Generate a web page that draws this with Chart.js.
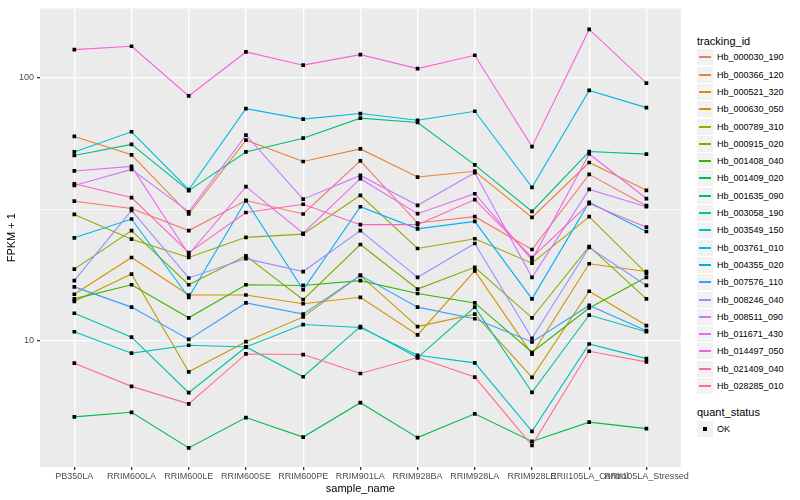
<!DOCTYPE html>
<html>
<head>
<meta charset="utf-8">
<script src="https://cdn.jsdelivr.net/npm/chart.js@4/dist/chart.umd.min.js"></script>
<style>
  body { margin: 0; background: #fff; font-family: "Liberation Sans", Arial, sans-serif; }
  #wrap { position: relative; width: 800px; height: 500px; }
  #plot { position: absolute; left: 0; top: 0; width: 690px; height: 500px; }
  .ltitle { position: absolute; left: 697px; font-size: 11px; color: #000; line-height: 12px; }
  .key { position: absolute; left: 697px; width: 16px; height: 16px; background: #F2F2F2; }
  .key i { position: absolute; display: block; left: 2px; width: 12px; top: 7px; height: 2px; }
  .key b { position: absolute; display: block; left: 6px; top: 6px; width: 4px; height: 4px; background: #000; }
  .ltext { position: absolute; left: 717px; font-size: 9px; color: #000; line-height: 10px; }
</style>
</head>
<body>
<div id="wrap">
  <div id="plot"><canvas id="chart" width="690" height="500"></canvas></div>
</div>
<script>
// samples on the x axis
const samples = ["PB350LA", "RRIM600LA", "RRIM600LE", "RRIM600SE", "RRIM600PE", "RRIM901LA",
  "RRIM928BA", "RRIM928LA", "RRIM928LE", "RRII105LA_Control", "RRII105LA_Stressed"];

const trackingIds = ["Hb_000030_190", "Hb_000366_120", "Hb_000521_320", "Hb_000630_050",
  "Hb_000789_310", "Hb_000915_020", "Hb_001408_040", "Hb_001409_020", "Hb_001635_090",
  "Hb_003058_190", "Hb_003549_150", "Hb_003761_010", "Hb_004355_020", "Hb_007576_110",
  "Hb_008246_040", "Hb_008511_090", "Hb_011671_430", "Hb_014497_050", "Hb_021409_040",
  "Hb_028285_010"];

const colors = ["#F8766D", "#EA8331", "#D89000", "#C09B00", "#A3A500", "#7CAE00", "#39B600",
  "#00BB4E", "#00BF7D", "#00C1A3", "#00BFC4", "#00BAE0", "#00B0F6", "#35A2FF", "#9590FF",
  "#C77CFF", "#E76BF3", "#FA62DB", "#FF62BC", "#FF6C91"];

// FPKM + 1 per tracking id, one value per sample
const hb_000030_190 = [33.9, 31.8, 26.2, 34.1, 30.3, 48.3, 28.0, 29.6, 22.2, 42.9, 32.6];
const hb_000366_120 = [59.8, 50.9, 30.3, 57.9, 48.0, 53.6, 41.9, 44.1, 29.4, 47.6, 37.3];
const hb_000521_320 = [15.0, 20.7, 14.9, 14.9, 13.8, 14.6, 10.5, 18.4, 8.87, 19.6, 18.3];
const hb_000630_050 = [14.1, 17.9, 7.60, 9.90, 12.3, 17.7, 11.3, 12.6, 7.24, 15.4, 11.4];
const hb_000789_310 = [30.2, 24.3, 20.7, 24.7, 25.4, 35.7, 22.4, 24.4, 19.7, 29.6, 18.0];
const hb_000915_020 = [18.7, 26.2, 16.3, 21.0, 14.3, 23.2, 15.7, 19.0, 12.2, 22.8, 14.4];
const hb_001408_040 = [14.4, 16.3, 12.2, 16.3, 16.2, 16.9, 15.1, 13.9, 9.02, 13.3, 17.4];
const hb_001409_020 = [5.12, 5.33, 3.90, 5.09, 4.29, 5.80, 4.27, 5.26, 4.13, 4.89, 4.62];
const hb_001635_090 = [50.6, 55.8, 37.2, 52.2, 58.9, 70.2, 67.6, 46.6, 31.0, 52.4, 51.2];
const hb_003058_190 = [12.7, 10.3, 6.33, 9.45, 7.28, 11.3, 8.61, 13.4, 6.35, 12.5, 10.8];
const hb_003549_150 = [10.8, 8.95, 9.59, 9.45, 11.5, 11.2, 8.79, 8.22, 4.51, 9.70, 8.53];
const hb_003761_010 = [52.2, 62.3, 37.5, 76.3, 69.6, 73.1, 68.9, 74.6, 38.3, 89.5, 77.0];
const hb_004355_020 = [24.6, 29.0, 14.6, 34.1, 15.6, 32.3, 26.6, 28.4, 14.4, 33.6, 26.0];
const hb_007576_110 = [16.0, 13.4, 10.1, 13.9, 12.6, 17.7, 13.4, 12.1, 9.87, 13.6, 10.9];
const hb_008246_040 = [16.9, 31.3, 17.3, 20.5, 18.3, 26.2, 17.4, 23.4, 10.2, 22.6, 16.2];
const hb_008511_090 = [38.9, 44.8, 30.9, 60.5, 34.5, 42.5, 32.7, 43.5, 17.4, 37.6, 32.3];
const hb_011671_430 = [44.2, 46.0, 21.3, 38.5, 25.6, 41.3, 30.4, 36.2, 20.3, 51.3, 34.7];
const hb_014497_050 = [128, 131.8, 85.3, 125.4, 111.7, 122.5, 108.4, 121.8, 54.7, 152.8, 95.5];
const hb_021409_040 = [39.5, 35.0, 21.6, 30.7, 33.0, 27.6, 27.6, 34.4, 20.7, 33.2, 27.0];
const hb_028285_010 = [8.20, 6.69, 5.74, 8.89, 8.84, 7.49, 8.61, 7.26, 3.99, 9.10, 8.29];

const seriesValues = [hb_000030_190, hb_000366_120, hb_000521_320, hb_000630_050, hb_000789_310,
  hb_000915_020, hb_001408_040, hb_001409_020, hb_001635_090, hb_003058_190, hb_003549_150,
  hb_003761_010, hb_004355_020, hb_007576_110, hb_008246_040, hb_008511_090, hb_011671_430,
  hb_014497_050, hb_021409_040, hb_028285_010];

// y ticks (log10), minor gridline sits halfway between decades
const yTicks = [10, 100];
const yMinor = [Math.sqrt(10) * 10];
const quantStatus = ["OK"];

const datasets = seriesValues.map((vals, k) => ({
  label: trackingIds[k],
  data: vals.map((v, i) => ({ x: i, y: v })),
  borderColor: colors[k],
  borderWidth: 1.1,
  pointRadius: 0,
  fill: false,
  tension: 0,
  order: 100 - k
}));

// black points drawn on top of all lines
datasets.push({
  label: quantStatus[0],
  data: seriesValues.flatMap(vals => vals.map((v, i) => ({ x: i, y: v }))),
  showLine: false,
  pointStyle: 'rect',
  pointRadius: 2.6,
  pointBorderWidth: 0,
  pointBackgroundColor: '#000',
  order: 0
});

const panelBg = {
  id: 'panelBg',
  beforeDraw(chart) {
    const { ctx, chartArea: a } = chart;
    ctx.save();
    ctx.fillStyle = '#EBEBEB';
    ctx.fillRect(a.left, a.top, a.right - a.left, a.bottom - a.top);
    ctx.restore();
  }
};

const isMinor = ctx => ctx.tick && yMinor.some(m => Math.abs(m - ctx.tick.value) < 1e-6);

new Chart(document.getElementById('chart'), {
  type: 'line',
  data: { datasets: datasets },
  plugins: [panelBg],
  options: {
    responsive: false,
    animation: false,
    layout: { padding: { top: 5, right: 6, left: 0, bottom: 0 } },
    plugins: { legend: { display: false }, tooltip: { enabled: false } },
    scales: {
      x: {
        type: 'linear',
        min: -0.6,
        max: 10.6,
        afterBuildTicks: s => { s.ticks = samples.map((n, i) => ({ value: i })); },
        afterFit: s => { s.height = 33; },
        ticks: {
          autoSkip: false, maxRotation: 0, minRotation: 0, padding: 1,
          color: '#4D4D4D', font: { size: 9, family: '"Liberation Sans", Arial, sans-serif' },
          callback: v => samples[v]
        },
        grid: { color: '#FFFFFF', lineWidth: 1.3, tickLength: 3, tickColor: '#333333' },
        border: { display: false },
        title: {
          display: true, text: 'sample_name', color: '#000',
          font: { size: 11, family: '"Liberation Sans", Arial, sans-serif' },
          padding: { top: 0, bottom: 4 }
        }
      },
      y: {
        type: 'logarithmic',
        min: 3.3,
        max: 183.7,
        afterBuildTicks: s => {
          s.ticks = yTicks.concat(yMinor).sort((a, b) => a - b).map(v => ({ value: v }));
        },
        afterFit: s => { s.width = 40; },
        ticks: {
          autoSkip: false, padding: 3,
          color: '#4D4D4D', font: { size: 9, family: '"Liberation Sans", Arial, sans-serif' },
          callback: v => (yTicks.includes(v) ? String(v) : '')
        },
        grid: {
          color: '#FFFFFF',
          lineWidth: ctx => (isMinor(ctx) ? 0.6 : 1.3),
          tickLength: 3,
          tickColor: ctx => (isMinor(ctx) ? 'rgba(0,0,0,0)' : '#333333')
        },
        border: { display: false },
        title: {
          display: true, text: 'FPKM + 1', color: '#000',
          font: { size: 11, family: '"Liberation Sans", Arial, sans-serif' },
          padding: { top: 5, bottom: 0 }
        }
      }
    }
  }
});

// ggplot-like legends on the right
const wrap = document.getElementById('wrap');
function add(cls, top, html) {
  const d = document.createElement('div');
  d.className = cls;
  d.style.top = Math.round(top) + 'px';
  d.innerHTML = html;
  wrap.appendChild(d);
  return d;
}
add('ltitle', 34.5, '').textContent = 'tracking_id';
trackingIds.forEach((id, k) => {
  const cy = 57.3 + k * 17.3;
  add('key', cy - 8, '<i style="background:' + colors[k] + '"></i>');
  add('ltext', cy - 5, '').textContent = id;
});
add('ltitle', 406.3, '').textContent = 'quant_status';
add('key', 421, '<b></b>');
add('ltext', 424, '').textContent = quantStatus[0];
</script>
</body>
</html>
